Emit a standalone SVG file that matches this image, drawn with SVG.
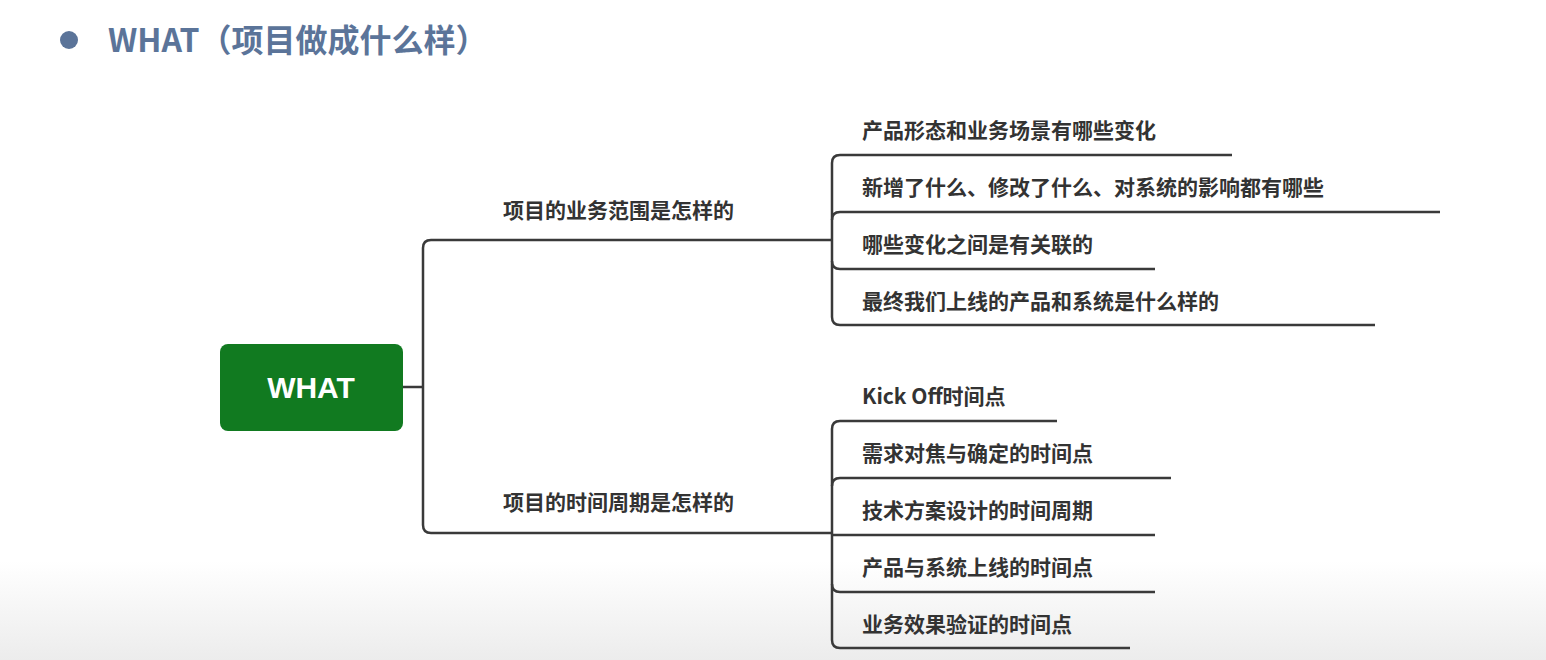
<svg xmlns="http://www.w3.org/2000/svg" width="1546" height="660" viewBox="0 0 1546 660">
<defs>
<linearGradient id="bg" x1="0" y1="0" x2="0" y2="1">
<stop offset="0.85" stop-color="#ffffff"/><stop offset="1" stop-color="#ececec"/>
</linearGradient>
</defs>
<style>
.t{font-family:"Noto Sans CJK SC","Liberation Sans",sans-serif;font-weight:bold;fill:#333;font-size:21px}
.c{fill:none;stroke:#3a3a3a;stroke-width:2.5}
</style>
<rect width="1546" height="660" fill="url(#bg)"/>
<g id="title">
<circle cx="69" cy="40" r="9" fill="#5b7499"/>
<text x="108" y="52" style="font-family:'Noto Sans CJK SC','Liberation Sans',sans-serif;font-weight:bold;font-size:32px;fill:#5b7499">WHAT（项目做成什么样）</text>
</g>
<g id="connectors" class="c">
<path class="c" d="M403 387H423"/>
<path class="c" d="M832 240H431Q423 240 423 248V525Q423 533 431 533H832"/>
<path class="c" d="M1232 155H840Q832 155 832 163V317Q832 325 840 325H1375"/>
<path class="c" d="M1440 212H840Q832 212 832 220"/>
<path class="c" d="M1155 269H840Q832 269 832 261"/>
<path class="c" d="M1057 421H840Q832 421 832 429V640Q832 648 840 648H1130"/>
<path class="c" d="M1171 478H840Q832 478 832 486"/>
<path class="c" d="M1155 535H832"/>
<path class="c" d="M1155 592H840Q832 592 832 584"/>
</g>
<g id="root">
<rect x="220" y="344" width="183" height="87" rx="8" fill="#117a20"/>
<text x="311" y="398" text-anchor="middle" style="font-family:'Liberation Sans',sans-serif;font-weight:bold;font-size:30px;fill:#fff">WHAT</text>
</g>
<g id="b1"><text class="t" x="503" y="218">项目的业务范围是怎样的</text></g>
<g id="b2"><text class="t" x="503" y="510">项目的时间周期是怎样的</text></g>
<g id="l1"><text class="t" x="862" y="138">产品形态和业务场景有哪些变化</text></g>
<g id="l2"><text class="t" x="862" y="195">新增了什么、修改了什么、对系统的影响都有哪些</text></g>
<g id="l3"><text class="t" x="862" y="252">哪些变化之间是有关联的</text></g>
<g id="l4"><text class="t" x="862" y="309">最终我们上线的产品和系统是什么样的</text></g>
<g id="l5"><text class="t" x="862" y="404">Kick Off时间点</text></g>
<g id="l6"><text class="t" x="862" y="461">需求对焦与确定的时间点</text></g>
<g id="l7"><text class="t" x="862" y="518">技术方案设计的时间周期</text></g>
<g id="l8"><text class="t" x="862" y="575">产品与系统上线的时间点</text></g>
<g id="l9"><text class="t" x="862" y="632">业务效果验证的时间点</text></g>
</svg>
